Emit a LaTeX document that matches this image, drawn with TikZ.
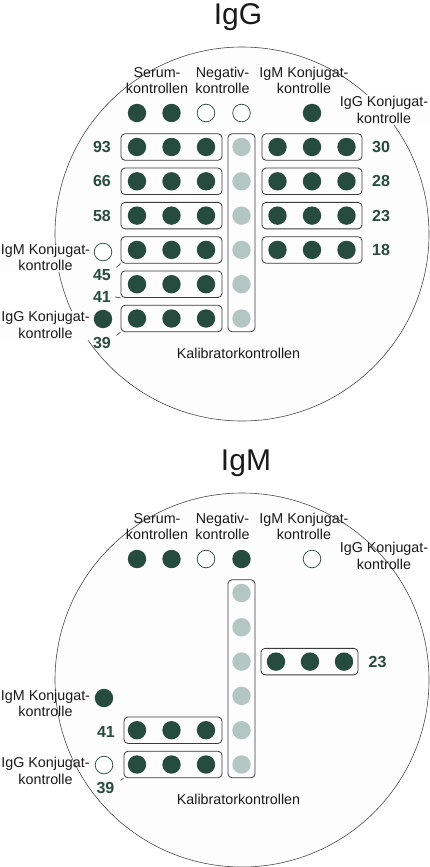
\documentclass[tikz,border=0pt]{standalone}
\usepackage{fontspec}
\setmainfont{Liberation Sans}
\definecolor{dkg}{HTML}{264C3F}
\definecolor{ltg}{HTML}{B3C6C4}
\definecolor{boxc}{HTML}{3A3A3A}
\definecolor{circc}{HTML}{4A4A4A}
\definecolor{txtc}{HTML}{1A1A1A}
\definecolor{platefill}{HTML}{FDFDFD}
\begin{document}
\begin{tikzpicture}[x=1pt,y=-1pt,
  dkdot/.style={circle,fill=dkg,minimum size=18.4pt,inner sep=0},
  emdot/.style={circle,fill=white,draw=dkg,line width=0.7pt,minimum size=17.6pt,inner sep=0},
  ltdot/.style={circle,fill=ltg,minimum size=18.4pt,inner sep=0},
  wellbox/.style={draw=boxc,line width=0.8pt,rounded corners=4pt,inner sep=0,minimum height=26.5pt},
  lbl/.style={align=center,font=\fontsize{14.3}{16.5}\selectfont,text=txtc,inner sep=0},
  lblw/.style={lbl,fill=platefill,inner sep=1pt},
  numlbl/.style={font=\fontsize{16}{16}\selectfont\bfseries,text=dkg,inner sep=0},
  ttl/.style={font=\fontsize{30}{30}\selectfont,text=txtc,inner sep=0,anchor=base},
  plate/.style={fill=platefill,draw=circc,line width=0.6pt},
  conn/.style={draw=boxc,line width=0.6pt}]
\useasboundingbox (0,0) rectangle (430,867);

% ================= IgG =================
\node[ttl] (gtitle) at (238,25) {IgG};
\draw[plate] (242,234) circle (187pt);

% top labels
\node[lbl] (gser) at (157,80.5) {Serum-\\kontrollen};
\node[lbl] (gneg) at (222.5,80.5) {Negativ-\\kontrolle};
\node[lbl] (gigm) at (304,80.5) {IgM Konjugat-\\kontrolle};
\node[lblw] (gigg) at (384,110) {IgG Konjugat-\\kontrolle};

% top dots
\node[dkdot] (gt1) at (137,113) {};
\node[dkdot] (gt2) at (171.5,113) {};
\node[emdot] (gt3) at (206,113) {};
\node[emdot] (gt4) at (241.5,113) {};
\node[dkdot] (gt5) at (312,113) {};

% calibrator column
\node[wellbox,minimum width=27pt,minimum height=198pt] (gcal) at (241.5,232.75) {};
\foreach \i/\y in {1/147,2/181.3,3/215.6,4/249.9,5/284.2,6/318.5}{
  \node[ltdot] (gc\i) at (241.5,\y) {};
  \node[wellbox,minimum width=101pt] (gl\i) at (171.5,\y) {};
  \foreach \j/\x in {1/137,2/171.5,3/206}{
    \node[dkdot] (gl\i d\j) at (\x,\y) {};
  }
}
\foreach \i/\y in {1/147,2/181.3,3/215.6,4/249.9}{
  \node[wellbox,minimum width=100pt] (gr\i) at (312,\y) {};
  \foreach \j/\x in {1/277.5,2/312,3/346.5}{
    \node[dkdot] (gr\i d\j) at (\x,\y) {};
  }
}

% numbers
\node[numlbl] (gn93) at (102,147) {93};
\node[numlbl] (gn66) at (102,181.3) {66};
\node[numlbl] (gn58) at (102,215.6) {58};
\node[numlbl] (gn45) at (102,275) {45};
\node[numlbl] (gn41) at (102,297) {41};
\node[numlbl] (gn39) at (102,343) {39};
\node[numlbl] (gn30) at (381,147) {30};
\node[numlbl] (gn28) at (381,181.3) {28};
\node[numlbl] (gn23) at (381,215.6) {23};
\node[numlbl] (gn18) at (381,249.9) {18};

\coordinate (g45a) at (116.5,267.5);
\coordinate (g41a) at (115,297);
\coordinate (g39a) at (116.5,335.5);
\draw[conn] (g45a) -- (gl4.south west);
\draw[conn] (g41a) -- (gl5.south west);
\draw[conn] (g39a) -- (gl6.south west);

% left controls
\node[lblw] (gigmL) at (45.5,257.5) {IgM Konjugat-\\kontrolle};
\node[emdot] (gigmD) at (103,252) {};
\node[lblw] (giggL) at (45.5,325) {IgG Konjugat-\\kontrolle};
\node[dkdot] (giggD) at (103,319) {};

\node[lbl] (gkal) at (238.5,353) {Kalibratorkontrollen};

% ================= IgM =================
\node[ttl] (mtitle) at (246,470) {IgM};
\draw[plate] (242,680) circle (187pt);

\node[lbl] (mser) at (157,526.5) {Serum-\\kontrollen};
\node[lbl] (mneg) at (222.5,526.5) {Negativ-\\kontrolle};
\node[lbl] (migm) at (304,526.5) {IgM Konjugat-\\kontrolle};
\node[lbl] (migg) at (384,556) {IgG Konjugat-\\kontrolle};

\node[dkdot] (mt1) at (137,559) {};
\node[dkdot] (mt2) at (171.5,559) {};
\node[emdot] (mt3) at (206,559) {};
\node[dkdot] (mt4) at (241.5,559) {};
\node[emdot] (mt5) at (312,559) {};

\node[wellbox,minimum width=27pt,minimum height=198pt] (mcal) at (241.5,678.75) {};
\foreach \i/\y in {1/593,2/627.3,3/661.6,4/695.9,5/730.2,6/764.5}{
  \node[ltdot] (mc\i) at (241.5,\y) {};
}
\foreach \i/\y in {5/730.2,6/764.5}{
  \node[wellbox,minimum width=98pt] (ml\i) at (173,\y) {};
  \foreach \j/\x in {1/137,2/171.5,3/206}{
    \node[dkdot] (ml\i d\j) at (\x,\y) {};
  }
}
\node[wellbox,minimum width=97pt] (mr3) at (309.5,661.6) {};
\foreach \j/\x in {1/276,2/310,3/344}{
  \node[dkdot] (mr3d\j) at (\x,661.6) {};
}

\node[numlbl] (mn23) at (377.5,661.6) {23};
\node[numlbl] (mn41) at (106,731.5) {41};
\node[numlbl] (mn39) at (105.5,788) {39};
\coordinate (m39a) at (120.5,780.5);
\draw[conn] (m39a) -- (ml6.south west);

\node[lbl] (migmL) at (45.5,703.5) {IgM Konjugat-\\kontrolle};
\node[dkdot] (migmD) at (104,698) {};
\node[lbl] (miggL) at (45.5,771) {IgG Konjugat-\\kontrolle};
\node[emdot] (miggD) at (104,765) {};

\node[lbl] (mkal) at (238.5,799) {Kalibratorkontrollen};
\end{tikzpicture}
\end{document}
